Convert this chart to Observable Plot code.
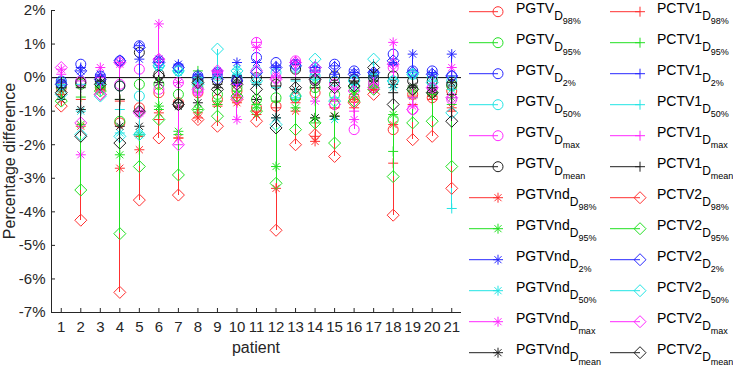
<!DOCTYPE html>
<html><head><meta charset="utf-8">
<script src="https://cdn.jsdelivr.net/npm/d3@7"></script>
<script src="https://cdn.jsdelivr.net/npm/@observablehq/plot@0.6"></script>
<style>
body{margin:0;background:#fff;}
#wrap{position:relative;width:733px;height:367px;font-family:"Liberation Sans",Arial,sans-serif;}
#wrap svg{position:absolute;left:0;top:0;}
</style></head><body><div id="wrap"></div>
<script>
const patients = d3.range(1, 22);
const metrics = ["98%", "95%", "2%", "50%", "max", "mean"];
const metricColors = ["#ff3030", "#22e022", "#2828ff", "#22e4e4", "#ff28ff", "#202020"];
const structures = ["PGTV", "PGTVnd", "PCTV1", "PCTV2"];
const yTicks = [2, 1, 0, -1, -2, -3, -4, -5, -6, -7];

// rows: D98, D95, D2, D50, Dmax, Dmean ; columns: patients 1..21 (percent)
const pgtv = [
  [-0.3,-0.15,-0.3,-1.35,-0.9,-0.45,-0.75,-0.45,-0.65,-0.4,-0.9,-0.85,-0.6,-0.45,-0.8,-0.6,-0.3,-1.55,-0.5,-0.6,-0.4],
  [-0.25,-0.2,-0.25,-1.3,-0.2,-0.2,-0.5,-0.3,-0.5,-0.3,-0.65,-0.6,-0.55,-0.3,-0.5,-0.3,-0.2,-1.25,-0.35,-0.45,-0.25],
  [-0.1,0.4,0.05,0.5,0.95,0.5,0.3,0.05,0.15,-0.05,0.6,0.45,0.4,0.2,0.4,0.2,0.1,0.7,0.2,0.2,0.05],
  [-0.15,-0.1,-0.1,-0.25,-0.55,0.35,0.2,-0.05,0.05,0.0,0.2,0.15,0.3,0.05,-0.1,-0.1,0.0,-0.1,0.1,0.0,-0.1],
  [-0.2,-0.1,-0.05,-0.2,0.25,-0.35,-0.15,-0.4,0.1,-0.1,1.05,0.0,0.5,-0.05,-0.2,-1.55,-0.15,0.3,-0.95,-0.3,-0.65],
  [-0.2,-0.15,-0.1,-0.25,0.75,0.1,-0.8,-0.1,-0.1,-0.1,0.0,-0.2,0.25,-0.1,0.05,-0.05,0.0,0.05,-0.1,-0.1,-0.2]
];
const pgtvnd = [
  [-0.5,-1.45,-0.4,-2.7,-2.15,-1.05,-1.8,-1.2,-0.8,-0.75,-1.1,-3.3,-1.0,-1.9,-1.15,-0.65,-0.35,-1.4,-0.55,-0.55,-0.9],
  [-0.4,-1.4,-0.35,-2.3,-1.7,-0.85,-1.6,-0.95,-0.8,-0.5,-0.9,-2.65,-0.9,-1.2,-1.15,-0.5,-0.3,-1.1,-0.4,-0.45,-0.6],
  [-0.15,0.2,0.1,0.45,0.55,0.55,0.4,0.05,0.2,0.45,0.45,0.3,0.45,0.3,0.1,0.15,0.15,0.45,0.7,0.1,0.7],
  [-0.3,-1.0,-0.2,-1.65,-1.65,0.3,0.15,-0.15,0.05,0.25,-0.15,-1.2,-0.6,-0.05,-1.25,-0.3,0.05,-0.3,0.05,-0.2,-0.35],
  [0.25,-2.3,0.3,0.4,-1.05,1.6,-0.15,-0.45,0.15,-1.25,0.9,0.05,0.45,-0.7,-0.35,-1.25,-0.25,1.05,-0.85,-0.35,0.3],
  [-0.65,-0.95,-0.15,-1.45,-1.45,-0.15,-0.85,-0.75,-0.3,-0.15,-0.65,-1.2,-0.35,-1.2,-1.15,-0.2,-0.1,-0.2,-0.25,-0.45,-0.15]
];
const pctv1 = [
  [-0.4,-0.65,-0.35,-0.7,-1.75,-1.25,-1.8,-1.05,-0.85,-0.6,-1.0,-0.9,-0.75,-1.75,-0.9,-0.9,-0.35,-2.55,-0.8,-0.65,-1.0],
  [-0.3,-0.58,-0.3,-0.65,-1.7,-0.95,-1.7,0.2,-0.7,-0.4,-0.8,-0.7,-0.65,-1.35,-0.7,-0.4,-0.25,-2.2,-0.6,-0.5,-0.8],
  [-0.1,0.3,0.05,0.45,0.95,0.45,0.35,0.1,0.1,0.05,0.45,0.35,0.4,0.2,0.35,0.15,0.2,0.4,0.2,0.15,0.05],
  [-0.2,-0.2,-0.15,-0.95,-1.7,0.3,0.2,0.0,0.0,0.1,0.1,-0.3,-0.1,0.1,-0.6,-0.2,0.1,-0.05,0.15,-0.1,-3.9],
  [0.1,-0.1,0.0,0.45,-1.0,0.55,-2.0,-0.3,0.2,-0.2,1.05,0.0,0.5,0.15,-0.65,-1.0,-0.2,0.35,-0.6,-0.3,-0.6],
  [-0.3,-0.3,-0.1,-0.65,-1.0,0.0,-0.75,-0.05,-0.2,0.05,-0.2,-0.25,-0.05,-0.3,-0.15,-0.1,0.05,-0.45,-0.3,-0.3,-0.5]
];
const pctv2 = [
  [-0.85,-4.25,-0.5,-6.4,-3.65,-1.8,-3.5,-1.25,-1.45,-0.65,-1.3,-4.55,-2.0,-1.7,-2.35,-0.75,-0.5,-4.1,-1.85,-1.75,-3.3],
  [-0.7,-3.35,-0.4,-4.65,-2.65,-1.25,-2.9,-0.95,-1.15,-0.55,-1.0,-3.15,-1.55,-1.35,-1.95,-0.7,-0.35,-2.95,-1.35,-1.3,-2.65],
  [-0.2,0.2,-0.05,0.5,0.9,0.45,0.3,0.0,-0.05,-0.1,0.15,0.3,0.35,0.3,0.3,0.1,0.15,0.5,0.15,0.1,0.05],
  [-0.5,-1.7,-0.55,-1.75,-1.7,0.35,0.2,-0.2,0.85,0.2,-0.1,-1.4,-0.55,0.55,-0.7,-0.1,0.55,-0.1,0.1,-0.15,-1.05],
  [0.3,-1.35,-0.5,0.45,-1.05,0.55,-2.0,-0.35,0.2,-0.6,0.2,-0.05,0.45,0.3,-0.8,-0.4,-0.3,0.4,-0.95,-0.3,-0.6],
  [-0.45,-1.75,-0.2,-1.95,-1.0,0.05,-0.8,-0.15,-0.35,-0.2,-0.35,-1.5,-0.3,-0.05,-0.3,-0.25,0.3,-0.8,-0.35,-0.45,-1.3]
];
const seriesData = [pgtv, pgtvnd, pctv1, pctv2];

// marker shapes (MATLAB-like: o, *, +, diamond)
const symCircle = {draw(c, s) { const r = Math.sqrt(s / Math.PI); c.moveTo(r, 0); c.arc(0, 0, r, 0, 2 * Math.PI); }};
const symAster = {draw(c, s) { const r = Math.sqrt(s / Math.PI), d = r * 0.7071;
  c.moveTo(-r, 0); c.lineTo(r, 0); c.moveTo(0, -r); c.lineTo(0, r);
  c.moveTo(-d, -d); c.lineTo(d, d); c.moveTo(-d, d); c.lineTo(d, -d); }};
const symPlus = {draw(c, s) { const r = Math.sqrt(s / Math.PI);
  c.moveTo(-r, 0); c.lineTo(r, 0); c.moveTo(0, -r); c.lineTo(0, r); }};
const symDiamond = {draw(c, s) { const r = Math.sqrt(s / Math.PI);
  c.moveTo(0, -r); c.lineTo(r, 0); c.lineTo(0, r); c.lineTo(-r, 0); c.closePath(); }};
const symbols = [symCircle, symAster, symPlus, symDiamond];
const symR = [5, 5, 5, 6];

const W = 733, H = 367, mL = 51, mR = 272, mT = 10, mB = 55;
const marks = [
  Plot.ruleY([0], {stroke: "#000", strokeWidth: 1})
];
structures.forEach((s, si) => metrics.forEach((m, mi) => {
  const rows = patients.map((p, i) => ({p, v: seriesData[si][mi][i]}));
  marks.push(Plot.ruleX(rows, {x: "p", y1: 0, y2: "v", stroke: metricColors[mi], shapeRendering: "crispEdges"}));
  marks.push(Plot.dot(rows, {x: "p", y: "v", r: symR[si], symbol: symbols[si], stroke: metricColors[mi], fill: "none", strokeWidth: 1}));
}));
marks.push(
  Plot.ruleX([0.5], {stroke: "#262626"}),
  Plot.ruleY([-7], {stroke: "#262626"}),
  Plot.tickX(patients, {x: d => d, insetTop: H - mT - mB - 4, stroke: "#262626"}),
  Plot.tickY(yTicks, {y: d => d, insetRight: W - mL - mR - 4, stroke: "#262626"}),
  Plot.axisX({ticks: patients, tickSize: 0, tickPadding: 9, tickFormat: d => String(d), label: null, fill: "#262626"}),
  Plot.axisY({ticks: yTicks, tickSize: 0, tickPadding: 6, tickFormat: d => `${d}%`, label: null, fill: "#262626"})
);

const chart = Plot.plot({
  width: W, height: H,
  marginLeft: mL, marginRight: mR, marginTop: mT, marginBottom: mB,
  x: {domain: [0.5, 21.5]},
  y: {domain: [-7, 2]},
  style: {fontFamily: '"Liberation Sans", Arial, sans-serif', fontSize: "15px", background: "white", overflow: "visible"},
  marks
});
const wrap = document.getElementById("wrap");
wrap.appendChild(chart);

// overlay: axis titles and legend
const svg = d3.select(wrap).append("svg").attr("width", W).attr("height", H)
  .style("font-family", '"Liberation Sans", Arial, sans-serif').style("pointer-events", "none");
svg.append("text").attr("transform", `translate(15,${(mT + H - mB) / 2}) rotate(-90)`)
  .attr("text-anchor", "middle").attr("font-size", 16).attr("fill", "#262626").text("Percentage difference");
svg.append("text").attr("x", (mL + W - mR) / 2).attr("y", 353)
  .attr("text-anchor", "middle").attr("font-size", 16).attr("fill", "#262626").text("patient");

const legCols = [{struct: [0, 1], lx1: 469, lx2: 498, tx: 516}, {struct: [2, 3], lx1: 610, lx2: 640, tx: 657}];
legCols.forEach(col => {
  col.struct.forEach((si, k) => metrics.forEach((m, mi) => {
    const row = k * 6 + mi;
    const y = 11.7 + row * 31.0;
    const g = svg.append("g");
    g.append("line").attr("x1", col.lx1).attr("x2", col.lx2).attr("y1", y).attr("y2", y)
      .attr("stroke", metricColors[mi]);
    g.append("path").attr("transform", `translate(${col.lx2},${y})`)
      .attr("d", d3.symbol(symbols[si], Math.PI * symR[si] * symR[si])())
      .attr("fill", "none").attr("stroke", metricColors[mi]);
    const t = g.append("text").attr("x", col.tx).attr("y", y + 1.5).attr("fill", "#000");
    t.append("tspan").attr("font-size", 14).text(structures[si]);
    t.append("tspan").attr("font-size", 12).attr("dy", 7).text("D");
    t.append("tspan").attr("font-size", 9).attr("dy", 3.6).text(metrics[mi]);
  }));
});
</script></body></html>
